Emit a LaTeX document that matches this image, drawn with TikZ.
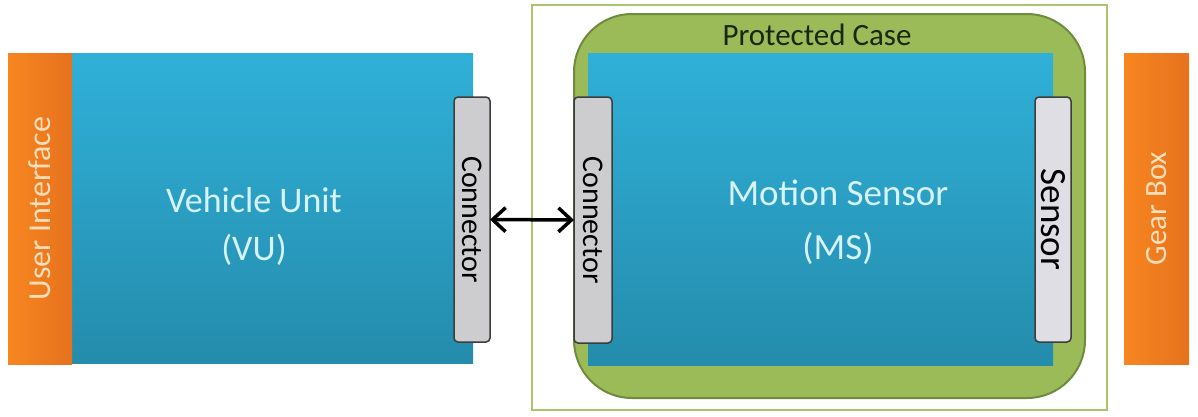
\documentclass[tikz,border=0pt]{standalone}
\usepackage{fontspec}
\setmainfont{Carlito}
\usetikzlibrary{arrows.meta}
\definecolor{bluetop}{RGB}{48,176,216}
\definecolor{bluebot}{RGB}{36,140,172}
\definecolor{orangetop}{RGB}{247,134,32}
\definecolor{orangebot}{RGB}{230,114,30}
\definecolor{casegreen}{RGB}{155,187,89}
\definecolor{caseedge}{RGB}{110,140,60}
\definecolor{outeredge}{RGB}{170,196,108}
\definecolor{conngray}{RGB}{205,205,208}
\definecolor{sensgray}{RGB}{222,222,228}
\definecolor{connedge}{RGB}{60,60,60}
\definecolor{lighttext}{RGB}{214,242,250}
\definecolor{orangetext}{RGB}{253,222,185}
\definecolor{darktext}{RGB}{25,40,15}
\tikzset{
  unitbox/.style={inner sep=0, outer sep=0, top color=bluetop, bottom color=bluebot, draw=none},
  orangebox/.style={inner sep=0, outer sep=0, left color=orangetop, right color=orangebot, draw=none,
    text=orangetext, font=\fontsize{32}{34}\selectfont},
  connbox/.style={inner sep=0, outer sep=0, fill=conngray, draw=connedge, line width=1.5pt,
    rounded corners=4pt, font=\fontsize{30}{34}\selectfont, text=black},
  unitlabel/.style={align=center, text=lighttext, inner sep=0},
  biarrow/.style={{Straight Barb[length=13pt,width=24pt]}-{Straight Barb[length=13pt,width=24pt]}, line width=3.5pt, black}
}
\begin{document}
\begin{tikzpicture}[x=1pt,y=-1pt]
\useasboundingbox (0,0) rectangle (1198,416);
\fill[white] (0,0) rectangle (1198,416);
% left side
\node[unitbox, minimum width=401pt, minimum height=310pt] (vu) at (272.5,208) {};
\node[orangebox, rotate=90, minimum width=311pt, minimum height=64pt] (ui) at (40,208.5) {User Interface};
\node[connbox, rotate=-90, minimum width=245pt, minimum height=36pt] (vuconn) at (472,219.5) {Connector};
\node[unitlabel, font=\fontsize{36}{48}\selectfont] (vulabel) at (254,226) {Vehicle Unit\\(VU)};
% right side
\node[draw=outeredge, line width=2.5pt, fill=white, inner sep=0, minimum width=575pt, minimum height=405pt] (outer) at (819.5,207.5) {};
\node[fill=casegreen, draw=caseedge, line width=2pt, rounded corners=58pt, inner sep=0, minimum width=511pt, minimum height=384pt] (case) at (829.5,206) {};
\node[text=darktext, inner sep=0, font=\fontsize{31}{34}\selectfont] (caselabel) at (817,35) {Protected Case};
\node[unitbox, minimum width=465pt, minimum height=312pt] (ms) at (820.5,209) {};
\node[connbox, rotate=-90, minimum width=246pt, minimum height=38pt] (msconn) at (593,220) {Connector};
\node[connbox, fill=sensgray, rotate=-90, minimum width=245pt, minimum height=36pt, font=\fontsize{37}{40}\selectfont] (sensor) at (1053,219.5) {Sensor};
\node[unitlabel, font=\fontsize{37}{54}\selectfont] (mslabel) at (838,222) {Motion Sensor\\(MS)};
\node[orangebox, rotate=90, minimum width=311pt, minimum height=65pt, font=\fontsize{31}{34}\selectfont] (gear) at (1156.5,208.5) {Gear Box};
% connection
\draw[biarrow] (vuconn) -- (msconn);
\end{tikzpicture}
\end{document}
